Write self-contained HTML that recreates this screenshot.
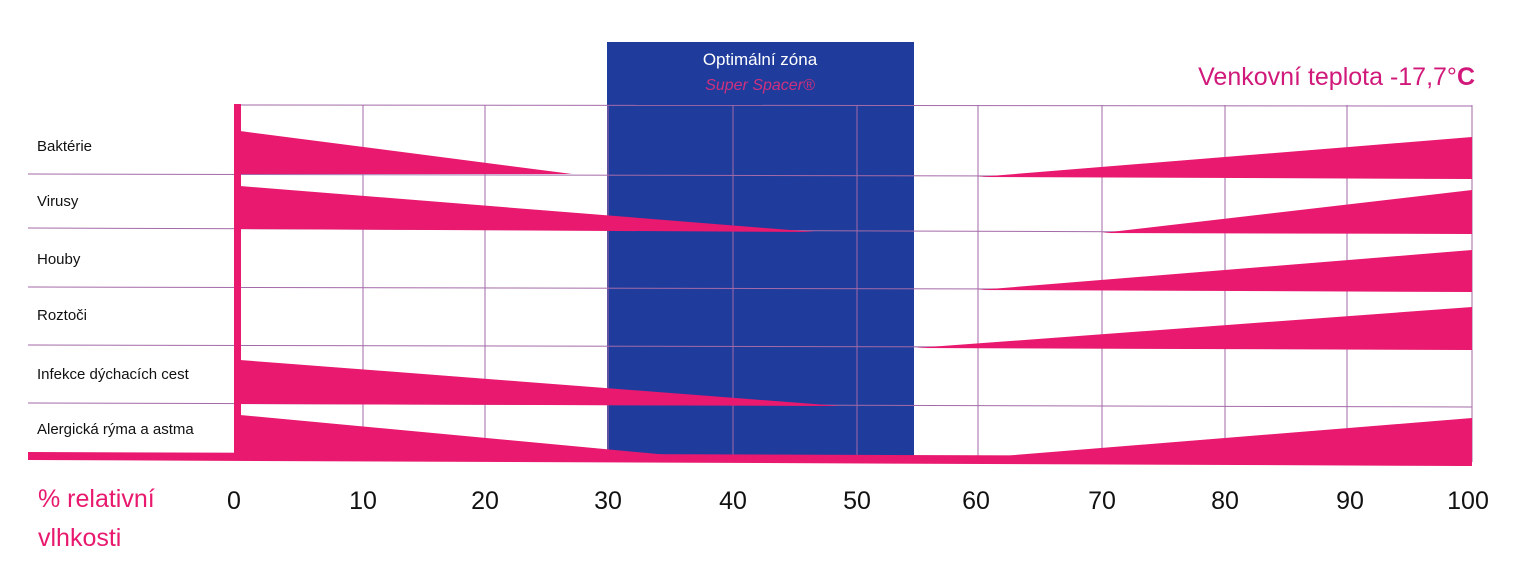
<!DOCTYPE html>
<html><head><meta charset="utf-8"><style>
body{margin:0;background:#fff;}
svg text{font-family:"Liberation Sans",sans-serif;}
</style></head><body>
<svg width="1516" height="572" viewBox="0 0 1516 572" xmlns="http://www.w3.org/2000/svg">
<rect width="1516" height="572" fill="#fff"/>
<rect x="607" y="42" width="307" height="414" fill="#1f3c9c"/>
<g stroke="#a36aa8" stroke-width="1" fill="none">
<line x1="238" y1="105" x2="1472" y2="106"/>
<line x1="28" y1="174" x2="1472" y2="177"/>
<line x1="28" y1="228" x2="1472" y2="233"/>
<line x1="28" y1="287" x2="1472" y2="290"/>
<line x1="28" y1="345" x2="1472" y2="348"/>
<line x1="28" y1="403" x2="1472" y2="407"/>
<line x1="363" y1="105" x2="363" y2="458"/>
<line x1="485" y1="105" x2="485" y2="458"/>
<line x1="608" y1="105" x2="608" y2="458"/>
<line x1="733" y1="105" x2="733" y2="458"/>
<line x1="857" y1="105" x2="857" y2="458"/>
<line x1="978" y1="105" x2="978" y2="460"/>
<line x1="1102" y1="105" x2="1102" y2="460"/>
<line x1="1225" y1="105" x2="1225" y2="460"/>
<line x1="1347" y1="105" x2="1347" y2="460"/>
<line x1="1472" y1="105" x2="1472" y2="462"/>
</g>
<g fill="#e8196e">
<rect x="234" y="104" width="7" height="356"/>
<polygon points="28,452 1472,457 1472,466 28,460"/>
<polygon points="240,131 572,174 240,174"/>
<polygon points="240,186 815,232 240,229"/>
<polygon points="240,360 840,406 240,404"/>
<polygon points="240,415 690,457 240,457"/>
<polygon points="978,177 1472,137 1472,179"/>
<polygon points="1102,233 1472,190 1472,234"/>
<polygon points="978,290 1472,250 1472,292"/>
<polygon points="915,348 1472,307 1472,350"/>
<polygon points="978,458 1472,418 1472,466"/>
</g>
<text x="760" y="65" fill="#fff" font-size="17" text-anchor="middle">Optimální zóna</text>
<text x="760" y="90" fill="#d0307e" font-size="16" font-style="italic" font-family="Liberation Serif" text-anchor="middle">Super Spacer®</text>
<text x="1475" y="85" fill="#d0197a" font-size="25" text-anchor="end">Venkovní teplota -17,7°<tspan font-weight="bold">C</tspan></text>
<g font-size="15" fill="#111">
<text x="37" y="151">Baktérie</text>
<text x="37" y="206">Virusy</text>
<text x="37" y="264">Houby</text>
<text x="37" y="320">Roztoči</text>
<text x="37" y="379">Infekce dýchacích cest</text>
<text x="37" y="434">Alergická rýma a astma</text>
</g>
<g font-size="25" fill="#111" text-anchor="middle">
<text x="234" y="509">0</text><text x="363" y="509">10</text><text x="485" y="509">20</text>
<text x="608" y="509">30</text><text x="733" y="509">40</text><text x="857" y="509">50</text>
<text x="976" y="509">60</text><text x="1102" y="509">70</text><text x="1225" y="509">80</text>
<text x="1350" y="509">90</text><text x="1468" y="509">100</text>
</g>
<text x="38" y="507" font-size="25" fill="#e8196e">% relativní</text>
<text x="38" y="546" font-size="25" fill="#e8196e">vlhkosti</text>
</svg>
</body></html>
